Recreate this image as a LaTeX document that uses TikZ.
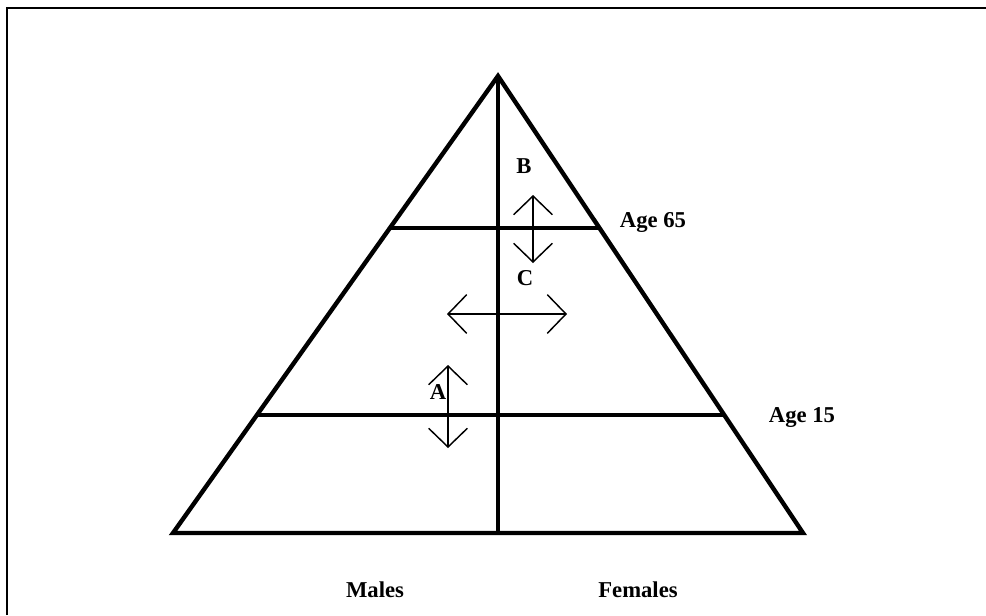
\documentclass[tikz,border=0pt]{standalone}
\usepackage{fontspec}
\setmainfont{Liberation Serif}
\usetikzlibrary{
    arrows.meta,
    positioning
}
\tikzset{
    pyramid/.style={
        line width=3.3pt,
        line join=miter
    },
    shift arrow/.style={
        {Straight Barb[length=14pt,width=29pt]}-{Straight Barb[length=14pt,width=29pt]},
        line width=1.1pt
    },
    tag/.style={
        font=\fontsize{17}{19}\selectfont\bfseries,
        inner sep=0pt
    }
}
\begin{document}
\begin{tikzpicture}[x=0.75pt,y=-0.75pt]
%
    \useasboundingbox
    (0,0)
    rectangle
    (986,615);
%
    \draw[
        line width=1.6pt
    ]
    (7,615)
    --
    (7,8)
    --
    (986,8);
%
    \coordinate (apex) at (498,76);
    \coordinate (baseL) at (173,533);
    \coordinate (baseR) at (803,533);
    \coordinate (baseM) at (498,533);
    \coordinate (old L) at (391,228);
    \coordinate (old R) at (599,228);
    \coordinate (young L) at (257,415);
    \coordinate (young R) at (724,415);
%
    \draw[
        pyramid
    ]
    (apex)
    --
    (baseL)
    --
    (baseR)
    --
    cycle;
%
    \draw[
        pyramid
    ]
    (apex)
    --
    (baseM);
%
    \draw[
        pyramid
    ]
    (old L)
    --
    (old R);
%
    \draw[
        pyramid
    ]
    (young L)
    --
    (young R);
%
    \coordinate (bc top) at (533,195);
    \coordinate (bc bot) at (533,263);
    \coordinate (mid L) at (447,314);
    \coordinate (mid R) at (567,314);
    \coordinate (a top) at (448,365);
    \coordinate (a bot) at (448,448);
%
    \draw[
        shift arrow
    ]
    (bc top)
    --
    (bc bot);
%
    \draw[
        shift arrow
    ]
    (mid L)
    --
    (mid R);
%
    \draw[
        shift arrow
    ]
    (a top)
    --
    (a bot);
%
    \node[tag] (B) at (524,166) {B};
    \node[tag] (C) at (525,278) {C};
    \node[tag] (A) at (438,392) {A};
    \node[tag] (age65) at (653,222) {Age 65};
    \node[tag] (age15) at (802,418) {Age 15};
    \node[tag] (males) at (375,590) {Males};
    \node[tag] (females) at (638,590) {Females};
%
\end{tikzpicture}
\end{document}
